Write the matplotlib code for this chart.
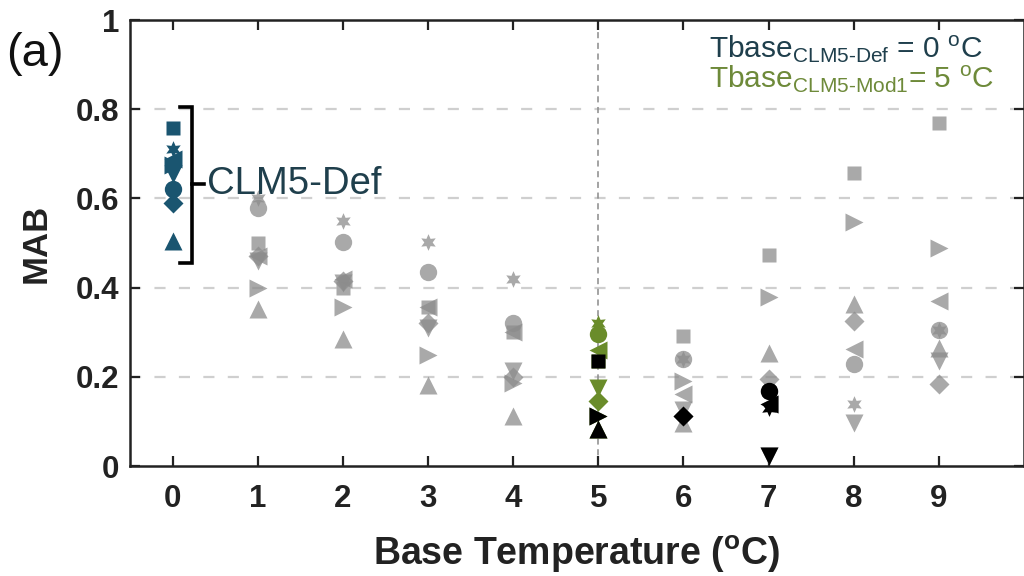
import numpy as np
import matplotlib
matplotlib.use("Agg")
import matplotlib.pyplot as plt

plt.rcParams['font.family'] = ['Liberation Sans', 'DejaVu Sans']
plt.rcParams['mathtext.fontset'] = 'custom'
plt.rcParams['mathtext.rm'] = 'Liberation Sans'
plt.rcParams['mathtext.bf'] = 'Liberation Sans:bold'
plt.rcParams['mathtext.it'] = 'Liberation Sans:italic'

# base temperatures (oC)
tbase = [0, 1, 2, 3, 4, 5, 6, 7, 8, 9]

# MAB per model across base temperature
mab_square = [0.757, 0.50, 0.40, 0.357, 0.30, 0.235, 0.292, 0.474, 0.656, 0.768]
mab_hexagram = [0.71, 0.60, 0.55, 0.503, 0.42, 0.32, 0.24, 0.13, 0.139, 0.305]
mab_circle = [0.62, 0.578, 0.503, 0.434, 0.32, 0.297, 0.24, 0.169, 0.229, 0.305]
mab_left = [0.688, 0.47, 0.42, 0.357, 0.30, 0.26, 0.162, 0.139, 0.263, 0.37]
mab_down = [0.655, 0.46, 0.41, 0.31, 0.213, 0.175, 0.125, 0.023, 0.097, 0.236]
mab_right = [0.675, 0.40, 0.357, 0.25, 0.185, 0.113, 0.19, 0.378, 0.546, 0.488]
mab_diamond = [0.59, 0.47, 0.415, 0.32, 0.20, 0.145, 0.113, 0.196, 0.326, 0.184]
mab_up = [0.505, 0.353, 0.285, 0.182, 0.113, 0.083, 0.097, 0.254, 0.364, 0.265]

tbase_def = 0
tbase_mod1 = 5

models = [
    (mab_square, 's', 10),
    (mab_hexagram, (6, 1, 0), 12),
    (mab_circle, 'o', 12.5),
    (mab_left, '<', 13.5),
    (mab_down, 'v', 13.5),
    (mab_right, '>', 13.5),
    (mab_diamond, 'D', 10),
    (mab_up, '^', 13.5),
]

grey = '#8c8c8c'
blue = '#1a5570'
green = '#6a8c2a'
blue_txt = '#1f3f4c'
green_txt = '#6e8a3a'

fig = plt.figure(figsize=(10.24, 5.76), dpi=100)
ax = fig.add_axes([130 / 1024, 1 - 466 / 576, 1 - 130 / 1024, (466 - 20) / 576])

# grid and Tbase=5 marker line
for yv in [0.2, 0.4, 0.6, 0.8]:
    ax.axhline(yv, color='#cfcfcf', lw=1.6, ls=(0, (5, 6)), zorder=0)
ax.axvline(tbase_mod1, color='#8a8a8a', lw=1.1, ls=(0, (4, 3)), zorder=0)

x = np.array(tbase)
for vals, mk, ms in models:
    v = np.array(vals)
    other = (x != tbase_def) & (x != tbase_mod1)
    ax.plot(x[other], v[other], ls='none', marker=mk, ms=ms, color=grey,
            alpha=0.75, mec='none', zorder=2)
    ax.plot(x[x == tbase_def], v[x == tbase_def], ls='none', marker=mk, ms=ms,
            color=blue, mec='none', zorder=3)
    ax.plot(x[x == tbase_mod1], v[x == tbase_mod1], ls='none', marker=mk, ms=ms,
            color=green, mec='none', zorder=3)
    best = np.argmin(v)
    ax.plot(x[best], v[best], ls='none', marker=mk, ms=ms, color='k',
            mec='none', zorder=4)

# bracket for CLM5-Def
ax.plot([0.09, 0.23, 0.23, 0.09], [0.805, 0.805, 0.456, 0.456], color='k',
        lw=2.6, solid_joinstyle='miter', clip_on=False, zorder=5)
ax.plot([0.23, 0.37], [0.632, 0.632], color='k', lw=2.6, zorder=5)
ax.text(0.40, 0.632, 'CLM5-Def', color=blue_txt, fontsize=27.5,
        ha='left', va='center')

ax.text(6.3, 0.915, r'Tbase$_{\text{CLM5-Def}}$ = 0 $^{\mathrm{o}}$C',
        color=blue_txt, fontsize=21.5, ha='left', va='baseline')
ax.text(6.3, 0.847, r'Tbase$_{\text{CLM5-Mod1}}$= 5 $^{\mathrm{o}}$C',
        color=green_txt, fontsize=21.5, ha='left', va='baseline')

ax.set_xlim(-0.5, 10)
ax.set_ylim(0, 1)
ax.set_xticks(tbase)
ax.set_yticks([0, 0.2, 0.4, 0.6, 0.8, 1])
ax.set_yticklabels(['0', '0.2', '0.4', '0.6', '0.8', '1'])
ax.tick_params(direction='in', length=7, width=1.6, top=True, right=True,
               labelsize=22.5, pad=13, color='#222222')
ax.tick_params(axis='y', pad=8)
for lab in ax.get_xticklabels() + ax.get_yticklabels():
    lab.set_fontweight('bold')
    lab.set_color('#222222')
for sp in ax.spines.values():
    sp.set_linewidth(1.8)
    sp.set_color('#222222')

ax.set_xlabel(r'Base Temperature ($^{\mathbf{o}}$C)', fontsize=27,
              fontweight='bold', labelpad=14, color='#222222')
ax.set_ylabel('MAB', fontsize=25, fontweight='bold', labelpad=16,
              color='#222222')

fig.text(35 / 1024, 1 - 54 / 576, '(a)', fontsize=34, ha='center',
         va='center', color='#111111')

fig.savefig('out.png', dpi=100)
